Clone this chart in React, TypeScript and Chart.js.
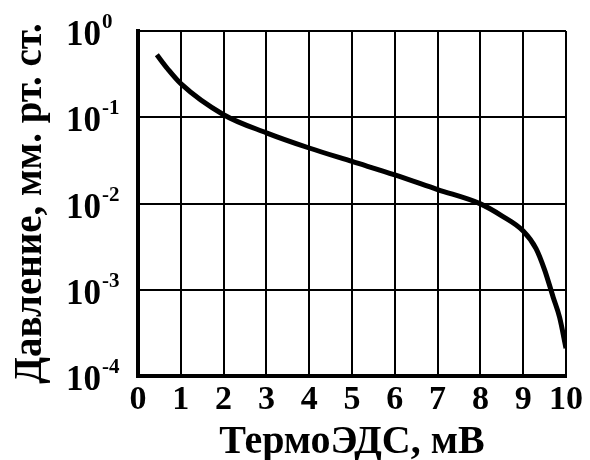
import React, { useEffect, useRef } from "react";
import { Chart, registerables } from "chart.js";

Chart.register(...registerables);

// ТермоЭДС, мВ
const emf: number[] = [0.44, 0.7, 1, 2, 3, 4, 5, 6, 7, 8, 8.5, 9, 9.3, 9.5, 9.7, 9.85, 10];
// Давление, мм. рт. ст.
const pressure: number[] = [
  0.53, 0.36, 0.245, 0.107, 0.066, 0.044, 0.0307, 0.0215, 0.0145, 0.0099, 0.0072, 0.0048,
  0.003, 0.0017, 0.00082, 0.00048, 0.00021,
];
const xTicks: number[] = [0, 1, 2, 3, 4, 5, 6, 7, 8, 9, 10];
const yExponents: number[] = [0, -1, -2, -3, -4];
const xTitle = "ТермоЭДС, мВ";
const yTitle = "Давление, мм. рт. ст.";

const FONT = "'Liberation Serif', 'Times New Roman', serif";

const yLabelPlugin = {
  id: "yPowerLabels",
  afterDraw(chart: any) {
    const ctx = chart.ctx;
    const y = chart.scales.y;
    ctx.save();
    ctx.fillStyle = "#000";
    ctx.textBaseline = "alphabetic";
    for (const e of yExponents) {
      const py = y.getPixelForValue(Math.pow(10, e));
      const base = py + 14;
      ctx.font = `bold 35px ${FONT}`;
      ctx.textAlign = "right";
      ctx.fillText("10", 101, base);
      ctx.font = `bold 21px ${FONT}`;
      ctx.textAlign = "left";
      ctx.fillText(e === 0 ? "0" : `${e}`, 102, base - 17);
    }
    ctx.restore();
  },
};

export default function App() {
  const ref = useRef<HTMLCanvasElement>(null);
  useEffect(() => {
    if (!ref.current) return;
    const chart = new Chart(ref.current, {
      type: "line",
      data: {
        datasets: [
          {
            data: emf.map((x, i) => ({ x, y: pressure[i] })),
            borderColor: "#000",
            borderWidth: 5,
            pointRadius: 0,
            cubicInterpolationMode: "monotone",
            fill: false,
          },
        ],
      },
      options: {
        animation: false,
        responsive: false,
        devicePixelRatio: 1,
        layout: { padding: { top: 31, right: 20, left: 0, bottom: 0 } },
        plugins: { legend: { display: false }, tooltip: { enabled: false } },
        scales: {
          x: {
            type: "linear",
            min: 0,
            max: 10,
            afterBuildTicks: (s: any) => {
              s.ticks = xTicks.map((v) => ({ value: v }));
            },
            afterFit: (s: any) => {
              s.height = 84;
            },
            grid: { color: "#000", lineWidth: 2, drawTicks: false },
            border: { display: true, color: "#000", width: 4 },
            ticks: {
              color: "#000",
              padding: 7,
              font: { family: FONT, size: 34, weight: "bold", lineHeight: 1 },
              maxRotation: 0,
              autoSkip: false,
            },
            title: {
              display: true,
              text: xTitle,
              color: "#000",
              padding: { top: 0, bottom: 0 },
              font: { family: FONT, size: 40, weight: "bold", lineHeight: 0.85 },
            },
          },
          y: {
            type: "logarithmic",
            min: 1e-4,
            max: 1,
            afterBuildTicks: (s: any) => {
              s.ticks = yExponents.map((e) => ({ value: Math.pow(10, e) }));
            },
            afterFit: (s: any) => {
              s.width = 138;
            },
            grid: { color: "#000", lineWidth: 2, drawTicks: false },
            border: { display: true, color: "#000", width: 4 },
            ticks: { display: false },
            title: {
              display: true,
              text: yTitle,
              color: "#000",
              padding: { top: 11, bottom: 0 },
              font: { family: FONT, size: 39, weight: "bold", lineHeight: 1 },
            },
          },
        },
      },
      plugins: [yLabelPlugin],
    } as any);
    return () => chart.destroy();
  }, []);
  return (
    <div style={{ position: "fixed", left: 0, top: 0, width: 590, height: 460, background: "#fff" }}>
      <canvas ref={ref} width={590} height={460} style={{ display: "block" }} />
    </div>
  );
}
